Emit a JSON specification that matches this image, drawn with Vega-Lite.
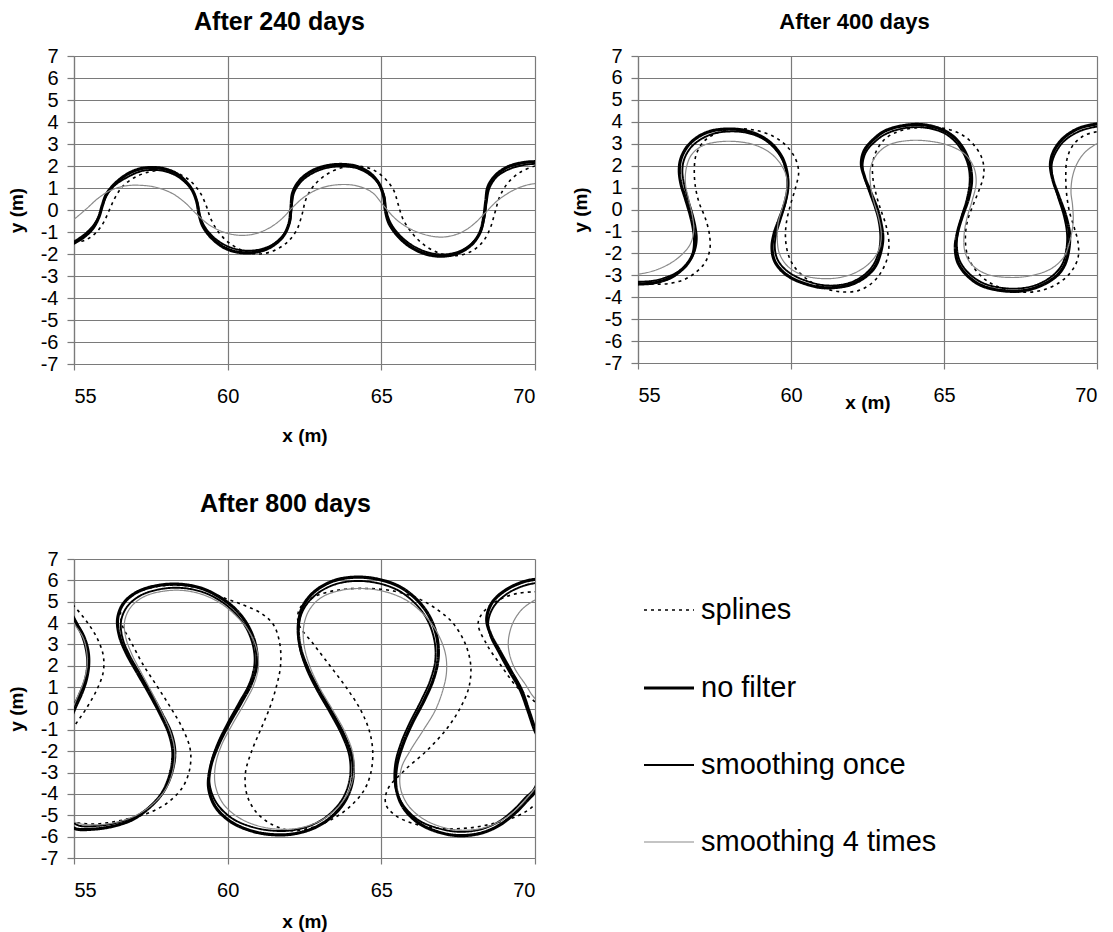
{
"$schema": "https://vega.github.io/schema/vega-lite/v6.json",
"padding": {"left": 7, "top": 10, "right": 5, "bottom": 5},
"background": "white",
"config": {
  "font": "Liberation Sans",
  "view": {"stroke": null},
  "axis": {"labelFont": "Liberation Sans", "labelFontSize": 20, "labelColor": "#000", "labelExpr": "'' + datum.value", "titleFont": "Liberation Sans", "titleFontSize": 19, "titleFontWeight": "bold", "titleColor": "#000", "gridColor": "#7a7a7a", "gridOpacity": 1, "gridWidth": 1.2, "domainColor": "#7a7a7a", "domainWidth": 1.2, "tickColor": "#7a7a7a", "tickWidth": 1.2},
  "axisX": {"tickSize": 6, "labelPadding": 16, "titlePadding": 20},
  "axisY": {"tickSize": 7, "labelPadding": 9, "titlePadding": 14},
  "title": {"font": "Liberation Sans", "fontSize": 25, "fontWeight": "bold", "color": "#000"},
  "legend": {"orient": "none", "legendX": 568, "legendY": 528, "symbolType": "stroke", "symbolSize": 2500, "labelFont": "Liberation Sans", "labelFontSize": 29, "labelColor": "#000", "rowPadding": 36, "labelOffset": 5, "labelLimit": 400}
},
"datasets": {"d": [
{"p":1,"s":"no filter","x":54.8,"y":-1.65},{"p":1,"s":"no filter","x":55,"y":-1.5},{"p":1,"s":"no filter","x":55.3,"y":-1.25},{"p":1,"s":"no filter","x":55.6,"y":-0.85},{"p":1,"s":"no filter","x":55.8,"y":-0.35},{"p":1,"s":"no filter","x":55.92,"y":0.2},{"p":1,"s":"no filter","x":56.05,"y":0.7},{"p":1,"s":"no filter","x":56.3,"y":1.15},{"p":1,"s":"no filter","x":56.7,"y":1.6},{"p":1,"s":"no filter","x":57.1,"y":1.85},{"p":1,"s":"no filter","x":57.5,"y":1.93},{"p":1,"s":"no filter","x":57.9,"y":1.88},{"p":1,"s":"no filter","x":58.3,"y":1.68},{"p":1,"s":"no filter","x":58.6,"y":1.35},{"p":1,"s":"no filter","x":58.85,"y":0.9},{"p":1,"s":"no filter","x":59.0,"y":0.35},{"p":1,"s":"no filter","x":59.07,"y":-0.2},{"p":1,"s":"no filter","x":59.2,"y":-0.75},{"p":1,"s":"no filter","x":59.5,"y":-1.3},{"p":1,"s":"no filter","x":59.9,"y":-1.72},{"p":1,"s":"no filter","x":60.4,"y":-1.93},{"p":1,"s":"no filter","x":60.9,"y":-1.92},{"p":1,"s":"no filter","x":61.4,"y":-1.68},{"p":1,"s":"no filter","x":61.8,"y":-1.2},{"p":1,"s":"no filter","x":62.0,"y":-0.6},{"p":1,"s":"no filter","x":62.06,"y":0.1},{"p":1,"s":"no filter","x":62.12,"y":0.8},{"p":1,"s":"no filter","x":62.35,"y":1.35},{"p":1,"s":"no filter","x":62.75,"y":1.78},{"p":1,"s":"no filter","x":63.2,"y":2.0},{"p":1,"s":"no filter","x":63.7,"y":2.07},{"p":1,"s":"no filter","x":64.2,"y":1.98},{"p":1,"s":"no filter","x":64.6,"y":1.7},{"p":1,"s":"no filter","x":64.9,"y":1.25},{"p":1,"s":"no filter","x":65.07,"y":0.65},{"p":1,"s":"no filter","x":65.13,"y":0.0},{"p":1,"s":"no filter","x":65.25,"y":-0.6},{"p":1,"s":"no filter","x":65.55,"y":-1.2},{"p":1,"s":"no filter","x":65.95,"y":-1.68},{"p":1,"s":"no filter","x":66.45,"y":-2.0},{"p":1,"s":"no filter","x":66.95,"y":-2.1},{"p":1,"s":"no filter","x":67.45,"y":-1.98},{"p":1,"s":"no filter","x":67.9,"y":-1.62},{"p":1,"s":"no filter","x":68.2,"y":-1.05},{"p":1,"s":"no filter","x":68.33,"y":-0.35},{"p":1,"s":"no filter","x":68.4,"y":0.4},{"p":1,"s":"no filter","x":68.47,"y":1.05},{"p":1,"s":"no filter","x":68.7,"y":1.55},{"p":1,"s":"no filter","x":69.1,"y":1.95},{"p":1,"s":"no filter","x":69.6,"y":2.15},{"p":1,"s":"no filter","x":70,"y":2.2},{"p":1,"s":"no filter","x":70.2,"y":2.22},
{"p":1,"s":"smoothing once","x":54.8,"y":-1.55},{"p":1,"s":"smoothing once","x":55,"y":-1.42},{"p":1,"s":"smoothing once","x":55.3,"y":-1.15},{"p":1,"s":"smoothing once","x":55.6,"y":-0.75},{"p":1,"s":"smoothing once","x":55.82,"y":-0.25},{"p":1,"s":"smoothing once","x":55.95,"y":0.3},{"p":1,"s":"smoothing once","x":56.1,"y":0.75},{"p":1,"s":"smoothing once","x":56.35,"y":1.15},{"p":1,"s":"smoothing once","x":56.75,"y":1.5},{"p":1,"s":"smoothing once","x":57.15,"y":1.75},{"p":1,"s":"smoothing once","x":57.5,"y":1.82},{"p":1,"s":"smoothing once","x":57.9,"y":1.78},{"p":1,"s":"smoothing once","x":58.3,"y":1.58},{"p":1,"s":"smoothing once","x":58.62,"y":1.25},{"p":1,"s":"smoothing once","x":58.88,"y":0.82},{"p":1,"s":"smoothing once","x":59.02,"y":0.3},{"p":1,"s":"smoothing once","x":59.1,"y":-0.25},{"p":1,"s":"smoothing once","x":59.25,"y":-0.75},{"p":1,"s":"smoothing once","x":59.55,"y":-1.25},{"p":1,"s":"smoothing once","x":59.95,"y":-1.62},{"p":1,"s":"smoothing once","x":60.45,"y":-1.83},{"p":1,"s":"smoothing once","x":60.95,"y":-1.82},{"p":1,"s":"smoothing once","x":61.45,"y":-1.58},{"p":1,"s":"smoothing once","x":61.82,"y":-1.12},{"p":1,"s":"smoothing once","x":62.02,"y":-0.55},{"p":1,"s":"smoothing once","x":62.08,"y":0.1},{"p":1,"s":"smoothing once","x":62.16,"y":0.78},{"p":1,"s":"smoothing once","x":62.4,"y":1.3},{"p":1,"s":"smoothing once","x":62.8,"y":1.7},{"p":1,"s":"smoothing once","x":63.25,"y":1.92},{"p":1,"s":"smoothing once","x":63.72,"y":1.98},{"p":1,"s":"smoothing once","x":64.2,"y":1.9},{"p":1,"s":"smoothing once","x":64.6,"y":1.62},{"p":1,"s":"smoothing once","x":64.92,"y":1.18},{"p":1,"s":"smoothing once","x":65.1,"y":0.6},{"p":1,"s":"smoothing once","x":65.16,"y":0.0},{"p":1,"s":"smoothing once","x":65.3,"y":-0.58},{"p":1,"s":"smoothing once","x":65.6,"y":-1.15},{"p":1,"s":"smoothing once","x":66.0,"y":-1.6},{"p":1,"s":"smoothing once","x":66.5,"y":-1.92},{"p":1,"s":"smoothing once","x":67.0,"y":-2.02},{"p":1,"s":"smoothing once","x":67.5,"y":-1.9},{"p":1,"s":"smoothing once","x":67.92,"y":-1.55},{"p":1,"s":"smoothing once","x":68.22,"y":-1.0},{"p":1,"s":"smoothing once","x":68.36,"y":-0.32},{"p":1,"s":"smoothing once","x":68.43,"y":0.4},{"p":1,"s":"smoothing once","x":68.52,"y":1.0},{"p":1,"s":"smoothing once","x":68.75,"y":1.5},{"p":1,"s":"smoothing once","x":69.15,"y":1.85},{"p":1,"s":"smoothing once","x":69.65,"y":2.05},{"p":1,"s":"smoothing once","x":70,"y":2.1},{"p":1,"s":"smoothing once","x":70.2,"y":2.12},
{"p":1,"s":"splines","x":54.8,"y":-1.6},{"p":1,"s":"splines","x":55,"y":-1.5},{"p":1,"s":"splines","x":55.4,"y":-1.35},{"p":1,"s":"splines","x":55.7,"y":-1.05},{"p":1,"s":"splines","x":55.95,"y":-0.6},{"p":1,"s":"splines","x":56.15,"y":0.0},{"p":1,"s":"splines","x":56.35,"y":0.6},{"p":1,"s":"splines","x":56.6,"y":1.1},{"p":1,"s":"splines","x":57.0,"y":1.5},{"p":1,"s":"splines","x":57.5,"y":1.75},{"p":1,"s":"splines","x":58.0,"y":1.8},{"p":1,"s":"splines","x":58.4,"y":1.65},{"p":1,"s":"splines","x":58.8,"y":1.3},{"p":1,"s":"splines","x":59.1,"y":0.8},{"p":1,"s":"splines","x":59.3,"y":0.2},{"p":1,"s":"splines","x":59.45,"y":-0.4},{"p":1,"s":"splines","x":59.7,"y":-1.0},{"p":1,"s":"splines","x":60.05,"y":-1.5},{"p":1,"s":"splines","x":60.5,"y":-1.85},{"p":1,"s":"splines","x":61.0,"y":-2.0},{"p":1,"s":"splines","x":61.5,"y":-1.85},{"p":1,"s":"splines","x":61.95,"y":-1.45},{"p":1,"s":"splines","x":62.25,"y":-0.9},{"p":1,"s":"splines","x":62.42,"y":-0.2},{"p":1,"s":"splines","x":62.55,"y":0.5},{"p":1,"s":"splines","x":62.8,"y":1.1},{"p":1,"s":"splines","x":63.2,"y":1.6},{"p":1,"s":"splines","x":63.7,"y":1.92},{"p":1,"s":"splines","x":64.2,"y":2.0},{"p":1,"s":"splines","x":64.7,"y":1.85},{"p":1,"s":"splines","x":65.1,"y":1.45},{"p":1,"s":"splines","x":65.4,"y":0.9},{"p":1,"s":"splines","x":65.55,"y":0.25},{"p":1,"s":"splines","x":65.7,"y":-0.4},{"p":1,"s":"splines","x":66.0,"y":-1.05},{"p":1,"s":"splines","x":66.4,"y":-1.6},{"p":1,"s":"splines","x":66.9,"y":-1.97},{"p":1,"s":"splines","x":67.4,"y":-2.08},{"p":1,"s":"splines","x":67.9,"y":-1.9},{"p":1,"s":"splines","x":68.3,"y":-1.45},{"p":1,"s":"splines","x":68.55,"y":-0.8},{"p":1,"s":"splines","x":68.7,"y":-0.1},{"p":1,"s":"splines","x":68.85,"y":0.6},{"p":1,"s":"splines","x":69.1,"y":1.2},{"p":1,"s":"splines","x":69.5,"y":1.7},{"p":1,"s":"splines","x":70,"y":2.0},{"p":1,"s":"splines","x":70.2,"y":2.05},
{"p":1,"s":"smoothing 4 times","x":54.8,"y":-0.6},{"p":1,"s":"smoothing 4 times","x":55,"y":-0.42},{"p":1,"s":"smoothing 4 times","x":55.4,"y":0.05},{"p":1,"s":"smoothing 4 times","x":55.8,"y":0.55},{"p":1,"s":"smoothing 4 times","x":56.2,"y":0.9},{"p":1,"s":"smoothing 4 times","x":56.7,"y":1.1},{"p":1,"s":"smoothing 4 times","x":57.2,"y":1.12},{"p":1,"s":"smoothing 4 times","x":57.7,"y":1.02},{"p":1,"s":"smoothing 4 times","x":58.2,"y":0.75},{"p":1,"s":"smoothing 4 times","x":58.6,"y":0.35},{"p":1,"s":"smoothing 4 times","x":59.0,"y":-0.2},{"p":1,"s":"smoothing 4 times","x":59.4,"y":-0.68},{"p":1,"s":"smoothing 4 times","x":59.9,"y":-1.02},{"p":1,"s":"smoothing 4 times","x":60.4,"y":-1.15},{"p":1,"s":"smoothing 4 times","x":60.9,"y":-1.08},{"p":1,"s":"smoothing 4 times","x":61.4,"y":-0.78},{"p":1,"s":"smoothing 4 times","x":61.8,"y":-0.35},{"p":1,"s":"smoothing 4 times","x":62.1,"y":0.1},{"p":1,"s":"smoothing 4 times","x":62.5,"y":0.6},{"p":1,"s":"smoothing 4 times","x":63.0,"y":0.98},{"p":1,"s":"smoothing 4 times","x":63.6,"y":1.15},{"p":1,"s":"smoothing 4 times","x":64.2,"y":1.1},{"p":1,"s":"smoothing 4 times","x":64.7,"y":0.8},{"p":1,"s":"smoothing 4 times","x":65.1,"y":0.15},{"p":1,"s":"smoothing 4 times","x":65.5,"y":-0.45},{"p":1,"s":"smoothing 4 times","x":66.0,"y":-0.9},{"p":1,"s":"smoothing 4 times","x":66.6,"y":-1.18},{"p":1,"s":"smoothing 4 times","x":67.1,"y":-1.22},{"p":1,"s":"smoothing 4 times","x":67.6,"y":-1.02},{"p":1,"s":"smoothing 4 times","x":68.0,"y":-0.65},{"p":1,"s":"smoothing 4 times","x":68.4,"y":-0.1},{"p":1,"s":"smoothing 4 times","x":68.8,"y":0.45},{"p":1,"s":"smoothing 4 times","x":69.3,"y":0.9},{"p":1,"s":"smoothing 4 times","x":69.7,"y":1.12},{"p":1,"s":"smoothing 4 times","x":70,"y":1.2},{"p":1,"s":"smoothing 4 times","x":70.2,"y":1.22},
{"p":2,"s":"no filter","x":54.5,"y":-3.45},{"p":2,"s":"no filter","x":55,"y":-3.4},{"p":2,"s":"no filter","x":55.5,"y":-3.35},{"p":2,"s":"no filter","x":56.0,"y":-3.15},{"p":2,"s":"no filter","x":56.3,"y":-2.9},{"p":2,"s":"no filter","x":56.6,"y":-2.5},{"p":2,"s":"no filter","x":56.8,"y":-2.0},{"p":2,"s":"no filter","x":56.85,"y":-1.4},{"p":2,"s":"no filter","x":56.8,"y":-0.8},{"p":2,"s":"no filter","x":56.7,"y":-0.2},{"p":2,"s":"no filter","x":56.55,"y":0.5},{"p":2,"s":"no filter","x":56.4,"y":1.2},{"p":2,"s":"no filter","x":56.35,"y":1.8},{"p":2,"s":"no filter","x":56.4,"y":2.3},{"p":2,"s":"no filter","x":56.6,"y":2.85},{"p":2,"s":"no filter","x":56.95,"y":3.3},{"p":2,"s":"no filter","x":57.4,"y":3.58},{"p":2,"s":"no filter","x":57.95,"y":3.67},{"p":2,"s":"no filter","x":58.5,"y":3.6},{"p":2,"s":"no filter","x":59.0,"y":3.35},{"p":2,"s":"no filter","x":59.4,"y":2.95},{"p":2,"s":"no filter","x":59.7,"y":2.4},{"p":2,"s":"no filter","x":59.85,"y":1.8},{"p":2,"s":"no filter","x":59.9,"y":1.1},{"p":2,"s":"no filter","x":59.8,"y":0.3},{"p":2,"s":"no filter","x":59.6,"y":-0.5},{"p":2,"s":"no filter","x":59.45,"y":-1.1},{"p":2,"s":"no filter","x":59.38,"y":-1.7},{"p":2,"s":"no filter","x":59.45,"y":-2.3},{"p":2,"s":"no filter","x":59.7,"y":-2.8},{"p":2,"s":"no filter","x":60.05,"y":-3.15},{"p":2,"s":"no filter","x":60.5,"y":-3.4},{"p":2,"s":"no filter","x":60.95,"y":-3.55},{"p":2,"s":"no filter","x":61.5,"y":-3.55},{"p":2,"s":"no filter","x":62.0,"y":-3.4},{"p":2,"s":"no filter","x":62.45,"y":-3.05},{"p":2,"s":"no filter","x":62.75,"y":-2.6},{"p":2,"s":"no filter","x":62.92,"y":-2.0},{"p":2,"s":"no filter","x":63.0,"y":-1.3},{"p":2,"s":"no filter","x":62.92,"y":-0.5},{"p":2,"s":"no filter","x":62.8,"y":0.1},{"p":2,"s":"no filter","x":62.6,"y":0.8},{"p":2,"s":"no filter","x":62.4,"y":1.5},{"p":2,"s":"no filter","x":62.3,"y":2.1},{"p":2,"s":"no filter","x":62.4,"y":2.7},{"p":2,"s":"no filter","x":62.7,"y":3.2},{"p":2,"s":"no filter","x":63.1,"y":3.6},{"p":2,"s":"no filter","x":63.8,"y":3.85},{"p":2,"s":"no filter","x":64.4,"y":3.85},{"p":2,"s":"no filter","x":65.0,"y":3.6},{"p":2,"s":"no filter","x":65.4,"y":3.2},{"p":2,"s":"no filter","x":65.7,"y":2.6},{"p":2,"s":"no filter","x":65.85,"y":2.0},{"p":2,"s":"no filter","x":65.9,"y":1.3},{"p":2,"s":"no filter","x":65.8,"y":0.5},{"p":2,"s":"no filter","x":65.6,"y":-0.3},{"p":2,"s":"no filter","x":65.45,"y":-1.0},{"p":2,"s":"no filter","x":65.37,"y":-1.7},{"p":2,"s":"no filter","x":65.45,"y":-2.4},{"p":2,"s":"no filter","x":65.75,"y":-3.0},{"p":2,"s":"no filter","x":66.2,"y":-3.45},{"p":2,"s":"no filter","x":66.9,"y":-3.7},{"p":2,"s":"no filter","x":67.6,"y":-3.7},{"p":2,"s":"no filter","x":68.2,"y":-3.45},{"p":2,"s":"no filter","x":68.7,"y":-3.0},{"p":2,"s":"no filter","x":68.95,"y":-2.5},{"p":2,"s":"no filter","x":69.08,"y":-1.8},{"p":2,"s":"no filter","x":69.1,"y":-1.1},{"p":2,"s":"no filter","x":68.98,"y":-0.3},{"p":2,"s":"no filter","x":68.75,"y":0.6},{"p":2,"s":"no filter","x":68.55,"y":1.4},{"p":2,"s":"no filter","x":68.48,"y":2.1},{"p":2,"s":"no filter","x":68.6,"y":2.7},{"p":2,"s":"no filter","x":68.9,"y":3.25},{"p":2,"s":"no filter","x":69.4,"y":3.7},{"p":2,"s":"no filter","x":70,"y":3.9},{"p":2,"s":"no filter","x":70.4,"y":3.95},
{"p":2,"s":"smoothing once","x":54.5,"y":-3.35},{"p":2,"s":"smoothing once","x":55,"y":-3.3},{"p":2,"s":"smoothing once","x":55.5,"y":-3.25},{"p":2,"s":"smoothing once","x":56.0,"y":-3.05},{"p":2,"s":"smoothing once","x":56.35,"y":-2.8},{"p":2,"s":"smoothing once","x":56.65,"y":-2.4},{"p":2,"s":"smoothing once","x":56.85,"y":-1.9},{"p":2,"s":"smoothing once","x":56.92,"y":-1.35},{"p":2,"s":"smoothing once","x":56.88,"y":-0.8},{"p":2,"s":"smoothing once","x":56.78,"y":-0.2},{"p":2,"s":"smoothing once","x":56.63,"y":0.5},{"p":2,"s":"smoothing once","x":56.5,"y":1.2},{"p":2,"s":"smoothing once","x":56.45,"y":1.75},{"p":2,"s":"smoothing once","x":56.5,"y":2.25},{"p":2,"s":"smoothing once","x":56.7,"y":2.78},{"p":2,"s":"smoothing once","x":57.05,"y":3.2},{"p":2,"s":"smoothing once","x":57.5,"y":3.47},{"p":2,"s":"smoothing once","x":58.0,"y":3.56},{"p":2,"s":"smoothing once","x":58.55,"y":3.5},{"p":2,"s":"smoothing once","x":59.05,"y":3.25},{"p":2,"s":"smoothing once","x":59.42,"y":2.85},{"p":2,"s":"smoothing once","x":59.7,"y":2.32},{"p":2,"s":"smoothing once","x":59.85,"y":1.75},{"p":2,"s":"smoothing once","x":59.9,"y":1.05},{"p":2,"s":"smoothing once","x":59.82,"y":0.3},{"p":2,"s":"smoothing once","x":59.65,"y":-0.5},{"p":2,"s":"smoothing once","x":59.52,"y":-1.1},{"p":2,"s":"smoothing once","x":59.47,"y":-1.7},{"p":2,"s":"smoothing once","x":59.55,"y":-2.25},{"p":2,"s":"smoothing once","x":59.8,"y":-2.72},{"p":2,"s":"smoothing once","x":60.15,"y":-3.05},{"p":2,"s":"smoothing once","x":60.6,"y":-3.3},{"p":2,"s":"smoothing once","x":61.05,"y":-3.45},{"p":2,"s":"smoothing once","x":61.55,"y":-3.45},{"p":2,"s":"smoothing once","x":62.0,"y":-3.3},{"p":2,"s":"smoothing once","x":62.42,"y":-2.95},{"p":2,"s":"smoothing once","x":62.7,"y":-2.5},{"p":2,"s":"smoothing once","x":62.86,"y":-1.95},{"p":2,"s":"smoothing once","x":62.92,"y":-1.3},{"p":2,"s":"smoothing once","x":62.86,"y":-0.5},{"p":2,"s":"smoothing once","x":62.74,"y":0.1},{"p":2,"s":"smoothing once","x":62.56,"y":0.8},{"p":2,"s":"smoothing once","x":62.4,"y":1.5},{"p":2,"s":"smoothing once","x":62.34,"y":2.05},{"p":2,"s":"smoothing once","x":62.45,"y":2.62},{"p":2,"s":"smoothing once","x":62.75,"y":3.1},{"p":2,"s":"smoothing once","x":63.15,"y":3.48},{"p":2,"s":"smoothing once","x":63.8,"y":3.73},{"p":2,"s":"smoothing once","x":64.4,"y":3.73},{"p":2,"s":"smoothing once","x":64.98,"y":3.5},{"p":2,"s":"smoothing once","x":65.36,"y":3.1},{"p":2,"s":"smoothing once","x":65.64,"y":2.55},{"p":2,"s":"smoothing once","x":65.8,"y":1.95},{"p":2,"s":"smoothing once","x":65.84,"y":1.3},{"p":2,"s":"smoothing once","x":65.75,"y":0.5},{"p":2,"s":"smoothing once","x":65.58,"y":-0.3},{"p":2,"s":"smoothing once","x":65.46,"y":-1.0},{"p":2,"s":"smoothing once","x":65.42,"y":-1.7},{"p":2,"s":"smoothing once","x":65.52,"y":-2.35},{"p":2,"s":"smoothing once","x":65.82,"y":-2.92},{"p":2,"s":"smoothing once","x":66.27,"y":-3.35},{"p":2,"s":"smoothing once","x":66.92,"y":-3.58},{"p":2,"s":"smoothing once","x":67.6,"y":-3.58},{"p":2,"s":"smoothing once","x":68.17,"y":-3.35},{"p":2,"s":"smoothing once","x":68.63,"y":-2.92},{"p":2,"s":"smoothing once","x":68.88,"y":-2.45},{"p":2,"s":"smoothing once","x":69.0,"y":-1.8},{"p":2,"s":"smoothing once","x":69.02,"y":-1.1},{"p":2,"s":"smoothing once","x":68.92,"y":-0.3},{"p":2,"s":"smoothing once","x":68.72,"y":0.6},{"p":2,"s":"smoothing once","x":68.56,"y":1.4},{"p":2,"s":"smoothing once","x":68.52,"y":2.05},{"p":2,"s":"smoothing once","x":68.66,"y":2.62},{"p":2,"s":"smoothing once","x":68.95,"y":3.15},{"p":2,"s":"smoothing once","x":69.45,"y":3.58},{"p":2,"s":"smoothing once","x":70,"y":3.78},{"p":2,"s":"smoothing once","x":70.4,"y":3.83},
{"p":2,"s":"splines","x":54.5,"y":-3.35},{"p":2,"s":"splines","x":55,"y":-3.35},{"p":2,"s":"splines","x":55.5,"y":-3.4},{"p":2,"s":"splines","x":56.0,"y":-3.38},{"p":2,"s":"splines","x":56.5,"y":-3.2},{"p":2,"s":"splines","x":56.9,"y":-2.85},{"p":2,"s":"splines","x":57.2,"y":-2.4},{"p":2,"s":"splines","x":57.35,"y":-1.8},{"p":2,"s":"splines","x":57.33,"y":-1.1},{"p":2,"s":"splines","x":57.2,"y":-0.4},{"p":2,"s":"splines","x":57.0,"y":0.3},{"p":2,"s":"splines","x":56.88,"y":1.0},{"p":2,"s":"splines","x":56.84,"y":1.8},{"p":2,"s":"splines","x":56.9,"y":2.5},{"p":2,"s":"splines","x":57.15,"y":3.1},{"p":2,"s":"splines","x":57.6,"y":3.5},{"p":2,"s":"splines","x":58.2,"y":3.67},{"p":2,"s":"splines","x":58.8,"y":3.62},{"p":2,"s":"splines","x":59.4,"y":3.35},{"p":2,"s":"splines","x":59.85,"y":2.9},{"p":2,"s":"splines","x":60.15,"y":2.3},{"p":2,"s":"splines","x":60.25,"y":1.7},{"p":2,"s":"splines","x":60.15,"y":1.0},{"p":2,"s":"splines","x":59.98,"y":0.2},{"p":2,"s":"splines","x":59.85,"y":-0.6},{"p":2,"s":"splines","x":59.82,"y":-1.3},{"p":2,"s":"splines","x":59.9,"y":-2.0},{"p":2,"s":"splines","x":60.1,"y":-2.6},{"p":2,"s":"splines","x":60.5,"y":-3.15},{"p":2,"s":"splines","x":61.0,"y":-3.55},{"p":2,"s":"splines","x":61.6,"y":-3.75},{"p":2,"s":"splines","x":62.2,"y":-3.7},{"p":2,"s":"splines","x":62.65,"y":-3.35},{"p":2,"s":"splines","x":62.95,"y":-2.85},{"p":2,"s":"splines","x":63.15,"y":-2.2},{"p":2,"s":"splines","x":63.2,"y":-1.5},{"p":2,"s":"splines","x":63.1,"y":-0.7},{"p":2,"s":"splines","x":62.93,"y":0.0},{"p":2,"s":"splines","x":62.78,"y":0.7},{"p":2,"s":"splines","x":62.68,"y":1.4},{"p":2,"s":"splines","x":62.67,"y":2.1},{"p":2,"s":"splines","x":62.8,"y":2.7},{"p":2,"s":"splines","x":63.1,"y":3.25},{"p":2,"s":"splines","x":63.6,"y":3.6},{"p":2,"s":"splines","x":64.3,"y":3.75},{"p":2,"s":"splines","x":65.0,"y":3.7},{"p":2,"s":"splines","x":65.6,"y":3.4},{"p":2,"s":"splines","x":66.0,"y":2.9},{"p":2,"s":"splines","x":66.25,"y":2.3},{"p":2,"s":"splines","x":66.3,"y":1.6},{"p":2,"s":"splines","x":66.15,"y":0.9},{"p":2,"s":"splines","x":65.95,"y":0.2},{"p":2,"s":"splines","x":65.77,"y":-0.5},{"p":2,"s":"splines","x":65.7,"y":-1.2},{"p":2,"s":"splines","x":65.75,"y":-2.0},{"p":2,"s":"splines","x":65.95,"y":-2.6},{"p":2,"s":"splines","x":66.35,"y":-3.2},{"p":2,"s":"splines","x":66.9,"y":-3.6},{"p":2,"s":"splines","x":67.5,"y":-3.77},{"p":2,"s":"splines","x":68.15,"y":-3.7},{"p":2,"s":"splines","x":68.75,"y":-3.35},{"p":2,"s":"splines","x":69.15,"y":-2.85},{"p":2,"s":"splines","x":69.38,"y":-2.2},{"p":2,"s":"splines","x":69.38,"y":-1.5},{"p":2,"s":"splines","x":69.25,"y":-0.8},{"p":2,"s":"splines","x":69.1,"y":-0.1},{"p":2,"s":"splines","x":69.0,"y":0.8},{"p":2,"s":"splines","x":68.98,"y":1.6},{"p":2,"s":"splines","x":69.02,"y":2.3},{"p":2,"s":"splines","x":69.2,"y":2.9},{"p":2,"s":"splines","x":69.55,"y":3.35},{"p":2,"s":"splines","x":70,"y":3.55},{"p":2,"s":"splines","x":70.4,"y":3.62},
{"p":2,"s":"smoothing 4 times","x":54.5,"y":-3.0},{"p":2,"s":"smoothing 4 times","x":55,"y":-2.95},{"p":2,"s":"smoothing 4 times","x":55.5,"y":-2.8},{"p":2,"s":"smoothing 4 times","x":56.0,"y":-2.5},{"p":2,"s":"smoothing 4 times","x":56.4,"y":-2.1},{"p":2,"s":"smoothing 4 times","x":56.7,"y":-1.6},{"p":2,"s":"smoothing 4 times","x":56.82,"y":-1.0},{"p":2,"s":"smoothing 4 times","x":56.78,"y":-0.3},{"p":2,"s":"smoothing 4 times","x":56.65,"y":0.5},{"p":2,"s":"smoothing 4 times","x":56.55,"y":1.2},{"p":2,"s":"smoothing 4 times","x":56.58,"y":1.9},{"p":2,"s":"smoothing 4 times","x":56.75,"y":2.5},{"p":2,"s":"smoothing 4 times","x":57.1,"y":2.9},{"p":2,"s":"smoothing 4 times","x":57.6,"y":3.08},{"p":2,"s":"smoothing 4 times","x":58.2,"y":3.1},{"p":2,"s":"smoothing 4 times","x":58.8,"y":2.95},{"p":2,"s":"smoothing 4 times","x":59.3,"y":2.6},{"p":2,"s":"smoothing 4 times","x":59.65,"y":2.1},{"p":2,"s":"smoothing 4 times","x":59.85,"y":1.5},{"p":2,"s":"smoothing 4 times","x":59.85,"y":0.8},{"p":2,"s":"smoothing 4 times","x":59.72,"y":0.1},{"p":2,"s":"smoothing 4 times","x":59.58,"y":-0.6},{"p":2,"s":"smoothing 4 times","x":59.55,"y":-1.3},{"p":2,"s":"smoothing 4 times","x":59.62,"y":-2.0},{"p":2,"s":"smoothing 4 times","x":59.9,"y":-2.6},{"p":2,"s":"smoothing 4 times","x":60.4,"y":-3.0},{"p":2,"s":"smoothing 4 times","x":61.0,"y":-3.15},{"p":2,"s":"smoothing 4 times","x":61.6,"y":-3.1},{"p":2,"s":"smoothing 4 times","x":62.15,"y":-2.85},{"p":2,"s":"smoothing 4 times","x":62.6,"y":-2.4},{"p":2,"s":"smoothing 4 times","x":62.88,"y":-1.8},{"p":2,"s":"smoothing 4 times","x":62.95,"y":-1.1},{"p":2,"s":"smoothing 4 times","x":62.85,"y":-0.3},{"p":2,"s":"smoothing 4 times","x":62.7,"y":0.4},{"p":2,"s":"smoothing 4 times","x":62.6,"y":1.1},{"p":2,"s":"smoothing 4 times","x":62.6,"y":1.9},{"p":2,"s":"smoothing 4 times","x":62.8,"y":2.5},{"p":2,"s":"smoothing 4 times","x":63.2,"y":2.95},{"p":2,"s":"smoothing 4 times","x":63.9,"y":3.15},{"p":2,"s":"smoothing 4 times","x":64.6,"y":3.1},{"p":2,"s":"smoothing 4 times","x":65.2,"y":2.9},{"p":2,"s":"smoothing 4 times","x":65.7,"y":2.5},{"p":2,"s":"smoothing 4 times","x":65.98,"y":1.9},{"p":2,"s":"smoothing 4 times","x":66.05,"y":1.2},{"p":2,"s":"smoothing 4 times","x":65.92,"y":0.4},{"p":2,"s":"smoothing 4 times","x":65.75,"y":-0.4},{"p":2,"s":"smoothing 4 times","x":65.66,"y":-1.1},{"p":2,"s":"smoothing 4 times","x":65.68,"y":-1.9},{"p":2,"s":"smoothing 4 times","x":65.9,"y":-2.5},{"p":2,"s":"smoothing 4 times","x":66.4,"y":-2.95},{"p":2,"s":"smoothing 4 times","x":67.2,"y":-3.1},{"p":2,"s":"smoothing 4 times","x":67.9,"y":-3.0},{"p":2,"s":"smoothing 4 times","x":68.5,"y":-2.7},{"p":2,"s":"smoothing 4 times","x":68.9,"y":-2.2},{"p":2,"s":"smoothing 4 times","x":69.1,"y":-1.5},{"p":2,"s":"smoothing 4 times","x":69.22,"y":-0.6},{"p":2,"s":"smoothing 4 times","x":69.2,"y":0.2},{"p":2,"s":"smoothing 4 times","x":69.15,"y":0.8},{"p":2,"s":"smoothing 4 times","x":69.2,"y":1.5},{"p":2,"s":"smoothing 4 times","x":69.35,"y":2.1},{"p":2,"s":"smoothing 4 times","x":69.6,"y":2.6},{"p":2,"s":"smoothing 4 times","x":70,"y":3.0},{"p":2,"s":"smoothing 4 times","x":70.4,"y":3.2},
{"p":3,"s":"no filter","x":54.6,"y":5.2},{"p":3,"s":"no filter","x":55,"y":4.15},{"p":3,"s":"no filter","x":55.25,"y":3.5},{"p":3,"s":"no filter","x":55.4,"y":2.8},{"p":3,"s":"no filter","x":55.45,"y":2.1},{"p":3,"s":"no filter","x":55.38,"y":1.4},{"p":3,"s":"no filter","x":55.2,"y":0.7},{"p":3,"s":"no filter","x":55,"y":0.1},{"p":3,"s":"no filter","x":54.75,"y":-0.7},{"p":3,"s":"no filter","x":54.4,"y":-2.0},{"p":3,"s":"no filter","x":54.25,"y":-3.5},{"p":3,"s":"no filter","x":54.45,"y":-4.8},{"p":3,"s":"no filter","x":55,"y":-5.6},{"p":3,"s":"no filter","x":55.6,"y":-5.65},{"p":3,"s":"no filter","x":56.3,"y":-5.5},{"p":3,"s":"no filter","x":56.9,"y":-5.2},{"p":3,"s":"no filter","x":57.4,"y":-4.7},{"p":3,"s":"no filter","x":57.85,"y":-4.0},{"p":3,"s":"no filter","x":58.12,"y":-3.1},{"p":3,"s":"no filter","x":58.22,"y":-2.1},{"p":3,"s":"no filter","x":58.1,"y":-1.2},{"p":3,"s":"no filter","x":57.82,"y":-0.3},{"p":3,"s":"no filter","x":57.45,"y":0.7},{"p":3,"s":"no filter","x":57.05,"y":1.7},{"p":3,"s":"no filter","x":56.7,"y":2.6},{"p":3,"s":"no filter","x":56.48,"y":3.4},{"p":3,"s":"no filter","x":56.42,"y":4.2},{"p":3,"s":"no filter","x":56.6,"y":4.9},{"p":3,"s":"no filter","x":57.05,"y":5.45},{"p":3,"s":"no filter","x":57.7,"y":5.75},{"p":3,"s":"no filter","x":58.4,"y":5.82},{"p":3,"s":"no filter","x":59.1,"y":5.65},{"p":3,"s":"no filter","x":59.7,"y":5.25},{"p":3,"s":"no filter","x":60.25,"y":4.65},{"p":3,"s":"no filter","x":60.65,"y":3.9},{"p":3,"s":"no filter","x":60.9,"y":3.0},{"p":3,"s":"no filter","x":60.95,"y":2.1},{"p":3,"s":"no filter","x":60.78,"y":1.2},{"p":3,"s":"no filter","x":60.45,"y":0.3},{"p":3,"s":"no filter","x":60.05,"y":-0.7},{"p":3,"s":"no filter","x":59.7,"y":-1.7},{"p":3,"s":"no filter","x":59.45,"y":-2.7},{"p":3,"s":"no filter","x":59.38,"y":-3.7},{"p":3,"s":"no filter","x":59.6,"y":-4.6},{"p":3,"s":"no filter","x":60.1,"y":-5.3},{"p":3,"s":"no filter","x":60.75,"y":-5.72},{"p":3,"s":"no filter","x":61.4,"y":-5.9},{"p":3,"s":"no filter","x":62.1,"y":-5.88},{"p":3,"s":"no filter","x":62.8,"y":-5.6},{"p":3,"s":"no filter","x":63.4,"y":-5.05},{"p":3,"s":"no filter","x":63.85,"y":-4.25},{"p":3,"s":"no filter","x":64.07,"y":-3.3},{"p":3,"s":"no filter","x":64.05,"y":-2.3},{"p":3,"s":"no filter","x":63.8,"y":-1.3},{"p":3,"s":"no filter","x":63.4,"y":-0.2},{"p":3,"s":"no filter","x":62.95,"y":0.9},{"p":3,"s":"no filter","x":62.6,"y":1.9},{"p":3,"s":"no filter","x":62.36,"y":2.9},{"p":3,"s":"no filter","x":62.3,"y":3.9},{"p":3,"s":"no filter","x":62.45,"y":4.8},{"p":3,"s":"no filter","x":62.85,"y":5.5},{"p":3,"s":"no filter","x":63.45,"y":5.98},{"p":3,"s":"no filter","x":64.15,"y":6.15},{"p":3,"s":"no filter","x":64.9,"y":6.05},{"p":3,"s":"no filter","x":65.6,"y":5.7},{"p":3,"s":"no filter","x":66.15,"y":5.1},{"p":3,"s":"no filter","x":66.55,"y":4.35},{"p":3,"s":"no filter","x":66.8,"y":3.4},{"p":3,"s":"no filter","x":66.85,"y":2.4},{"p":3,"s":"no filter","x":66.7,"y":1.4},{"p":3,"s":"no filter","x":66.4,"y":0.4},{"p":3,"s":"no filter","x":66.0,"y":-0.7},{"p":3,"s":"no filter","x":65.7,"y":-1.7},{"p":3,"s":"no filter","x":65.5,"y":-2.7},{"p":3,"s":"no filter","x":65.48,"y":-3.7},{"p":3,"s":"no filter","x":65.7,"y":-4.6},{"p":3,"s":"no filter","x":66.2,"y":-5.35},{"p":3,"s":"no filter","x":66.85,"y":-5.78},{"p":3,"s":"no filter","x":67.5,"y":-5.95},{"p":3,"s":"no filter","x":68.2,"y":-5.85},{"p":3,"s":"no filter","x":68.8,"y":-5.5},{"p":3,"s":"no filter","x":69.35,"y":-4.9},{"p":3,"s":"no filter","x":69.75,"y":-4.3},{"p":3,"s":"no filter","x":70,"y":-3.9},{"p":3,"s":"no filter","x":70.2,"y":-3.2},{"p":3,"s":"no filter","x":70.25,"y":-2.3},{"p":3,"s":"no filter","x":70.15,"y":-1.5},{"p":3,"s":"no filter","x":70,"y":-0.95},{"p":3,"s":"no filter","x":69.8,"y":-0.1},{"p":3,"s":"no filter","x":69.55,"y":0.9},{"p":3,"s":"no filter","x":69.2,"y":1.8},{"p":3,"s":"no filter","x":68.85,"y":2.7},{"p":3,"s":"no filter","x":68.55,"y":3.5},{"p":3,"s":"no filter","x":68.43,"y":4.2},{"p":3,"s":"no filter","x":68.6,"y":4.95},{"p":3,"s":"no filter","x":69.05,"y":5.55},{"p":3,"s":"no filter","x":69.6,"y":5.92},{"p":3,"s":"no filter","x":70,"y":6.05},{"p":3,"s":"no filter","x":70.4,"y":6.12},
{"p":3,"s":"smoothing once","x":54.7,"y":5.1},{"p":3,"s":"smoothing once","x":55.1,"y":4.0},{"p":3,"s":"smoothing once","x":55.33,"y":3.4},{"p":3,"s":"smoothing once","x":55.47,"y":2.75},{"p":3,"s":"smoothing once","x":55.5,"y":2.1},{"p":3,"s":"smoothing once","x":55.43,"y":1.4},{"p":3,"s":"smoothing once","x":55.27,"y":0.7},{"p":3,"s":"smoothing once","x":55.08,"y":0.1},{"p":3,"s":"smoothing once","x":54.85,"y":-0.7},{"p":3,"s":"smoothing once","x":54.5,"y":-2.0},{"p":3,"s":"smoothing once","x":54.35,"y":-3.4},{"p":3,"s":"smoothing once","x":54.55,"y":-4.65},{"p":3,"s":"smoothing once","x":55.1,"y":-5.45},{"p":3,"s":"smoothing once","x":55.7,"y":-5.5},{"p":3,"s":"smoothing once","x":56.4,"y":-5.35},{"p":3,"s":"smoothing once","x":57.0,"y":-5.05},{"p":3,"s":"smoothing once","x":57.5,"y":-4.55},{"p":3,"s":"smoothing once","x":57.93,"y":-3.88},{"p":3,"s":"smoothing once","x":58.2,"y":-3.0},{"p":3,"s":"smoothing once","x":58.3,"y":-2.05},{"p":3,"s":"smoothing once","x":58.18,"y":-1.15},{"p":3,"s":"smoothing once","x":57.9,"y":-0.3},{"p":3,"s":"smoothing once","x":57.53,"y":0.68},{"p":3,"s":"smoothing once","x":57.14,"y":1.65},{"p":3,"s":"smoothing once","x":56.8,"y":2.52},{"p":3,"s":"smoothing once","x":56.58,"y":3.3},{"p":3,"s":"smoothing once","x":56.53,"y":4.08},{"p":3,"s":"smoothing once","x":56.72,"y":4.75},{"p":3,"s":"smoothing once","x":57.15,"y":5.28},{"p":3,"s":"smoothing once","x":57.78,"y":5.58},{"p":3,"s":"smoothing once","x":58.45,"y":5.65},{"p":3,"s":"smoothing once","x":59.12,"y":5.48},{"p":3,"s":"smoothing once","x":59.7,"y":5.1},{"p":3,"s":"smoothing once","x":60.22,"y":4.5},{"p":3,"s":"smoothing once","x":60.6,"y":3.78},{"p":3,"s":"smoothing once","x":60.83,"y":2.9},{"p":3,"s":"smoothing once","x":60.87,"y":2.05},{"p":3,"s":"smoothing once","x":60.7,"y":1.15},{"p":3,"s":"smoothing once","x":60.38,"y":0.3},{"p":3,"s":"smoothing once","x":60.0,"y":-0.68},{"p":3,"s":"smoothing once","x":59.67,"y":-1.65},{"p":3,"s":"smoothing once","x":59.45,"y":-2.62},{"p":3,"s":"smoothing once","x":59.42,"y":-3.6},{"p":3,"s":"smoothing once","x":59.65,"y":-4.45},{"p":3,"s":"smoothing once","x":60.15,"y":-5.15},{"p":3,"s":"smoothing once","x":60.8,"y":-5.55},{"p":3,"s":"smoothing once","x":61.45,"y":-5.72},{"p":3,"s":"smoothing once","x":62.12,"y":-5.7},{"p":3,"s":"smoothing once","x":62.78,"y":-5.43},{"p":3,"s":"smoothing once","x":63.35,"y":-4.9},{"p":3,"s":"smoothing once","x":63.78,"y":-4.12},{"p":3,"s":"smoothing once","x":63.98,"y":-3.2},{"p":3,"s":"smoothing once","x":63.96,"y":-2.23},{"p":3,"s":"smoothing once","x":63.72,"y":-1.26},{"p":3,"s":"smoothing once","x":63.33,"y":-0.2},{"p":3,"s":"smoothing once","x":62.9,"y":0.87},{"p":3,"s":"smoothing once","x":62.57,"y":1.84},{"p":3,"s":"smoothing once","x":62.35,"y":2.82},{"p":3,"s":"smoothing once","x":62.3,"y":3.78},{"p":3,"s":"smoothing once","x":62.47,"y":4.65},{"p":3,"s":"smoothing once","x":62.88,"y":5.34},{"p":3,"s":"smoothing once","x":63.47,"y":5.8},{"p":3,"s":"smoothing once","x":64.15,"y":5.97},{"p":3,"s":"smoothing once","x":64.88,"y":5.87},{"p":3,"s":"smoothing once","x":65.55,"y":5.53},{"p":3,"s":"smoothing once","x":66.08,"y":4.95},{"p":3,"s":"smoothing once","x":66.47,"y":4.22},{"p":3,"s":"smoothing once","x":66.71,"y":3.3},{"p":3,"s":"smoothing once","x":66.76,"y":2.33},{"p":3,"s":"smoothing once","x":66.6,"y":1.36},{"p":3,"s":"smoothing once","x":66.3,"y":0.39},{"p":3,"s":"smoothing once","x":65.92,"y":-0.68},{"p":3,"s":"smoothing once","x":65.63,"y":-1.65},{"p":3,"s":"smoothing once","x":65.45,"y":-2.62},{"p":3,"s":"smoothing once","x":65.45,"y":-3.6},{"p":3,"s":"smoothing once","x":65.68,"y":-4.45},{"p":3,"s":"smoothing once","x":66.18,"y":-5.2},{"p":3,"s":"smoothing once","x":66.83,"y":-5.6},{"p":3,"s":"smoothing once","x":67.5,"y":-5.77},{"p":3,"s":"smoothing once","x":68.18,"y":-5.68},{"p":3,"s":"smoothing once","x":68.77,"y":-5.34},{"p":3,"s":"smoothing once","x":69.3,"y":-4.75},{"p":3,"s":"smoothing once","x":69.7,"y":-4.15},{"p":3,"s":"smoothing once","x":69.95,"y":-3.8},{"p":3,"s":"smoothing once","x":70.15,"y":-3.1},{"p":3,"s":"smoothing once","x":70.2,"y":-2.25},{"p":3,"s":"smoothing once","x":70.1,"y":-1.45},{"p":3,"s":"smoothing once","x":69.95,"y":-0.95},{"p":3,"s":"smoothing once","x":69.75,"y":-0.1},{"p":3,"s":"smoothing once","x":69.5,"y":0.87},{"p":3,"s":"smoothing once","x":69.15,"y":1.75},{"p":3,"s":"smoothing once","x":68.82,"y":2.62},{"p":3,"s":"smoothing once","x":68.55,"y":3.4},{"p":3,"s":"smoothing once","x":68.48,"y":4.08},{"p":3,"s":"smoothing once","x":68.67,"y":4.8},{"p":3,"s":"smoothing once","x":69.1,"y":5.38},{"p":3,"s":"smoothing once","x":69.62,"y":5.74},{"p":3,"s":"smoothing once","x":70,"y":5.87},{"p":3,"s":"smoothing once","x":70.4,"y":5.94},
{"p":3,"s":"splines","x":54.5,"y":5.6},{"p":3,"s":"splines","x":55,"y":4.8},{"p":3,"s":"splines","x":55.4,"y":4.1},{"p":3,"s":"splines","x":55.75,"y":3.3},{"p":3,"s":"splines","x":55.95,"y":2.5},{"p":3,"s":"splines","x":55.95,"y":1.7},{"p":3,"s":"splines","x":55.75,"y":0.9},{"p":3,"s":"splines","x":55.4,"y":0.0},{"p":3,"s":"splines","x":55,"y":-0.85},{"p":3,"s":"splines","x":54.6,"y":-1.8},{"p":3,"s":"splines","x":54.3,"y":-3.2},{"p":3,"s":"splines","x":54.4,"y":-4.5},{"p":3,"s":"splines","x":54.8,"y":-5.2},{"p":3,"s":"splines","x":55.4,"y":-5.4},{"p":3,"s":"splines","x":56.1,"y":-5.35},{"p":3,"s":"splines","x":56.8,"y":-5.15},{"p":3,"s":"splines","x":57.5,"y":-4.85},{"p":3,"s":"splines","x":58.1,"y":-4.35},{"p":3,"s":"splines","x":58.55,"y":-3.65},{"p":3,"s":"splines","x":58.77,"y":-2.8},{"p":3,"s":"splines","x":58.78,"y":-1.9},{"p":3,"s":"splines","x":58.52,"y":-0.9},{"p":3,"s":"splines","x":58.12,"y":0.1},{"p":3,"s":"splines","x":57.7,"y":1.05},{"p":3,"s":"splines","x":57.25,"y":2.05},{"p":3,"s":"splines","x":56.88,"y":3.05},{"p":3,"s":"splines","x":56.55,"y":4.0},{"p":3,"s":"splines","x":56.55,"y":4.75},{"p":3,"s":"splines","x":56.9,"y":5.3},{"p":3,"s":"splines","x":57.5,"y":5.65},{"p":3,"s":"splines","x":58.3,"y":5.78},{"p":3,"s":"splines","x":59.1,"y":5.62},{"p":3,"s":"splines","x":59.8,"y":5.22},{"p":3,"s":"splines","x":60.5,"y":4.85},{"p":3,"s":"splines","x":61.1,"y":4.45},{"p":3,"s":"splines","x":61.5,"y":3.9},{"p":3,"s":"splines","x":61.7,"y":3.0},{"p":3,"s":"splines","x":61.72,"y":2.0},{"p":3,"s":"splines","x":61.58,"y":1.0},{"p":3,"s":"splines","x":61.36,"y":0.0},{"p":3,"s":"splines","x":61.07,"y":-1.0},{"p":3,"s":"splines","x":60.78,"y":-2.0},{"p":3,"s":"splines","x":60.58,"y":-3.0},{"p":3,"s":"splines","x":60.62,"y":-4.0},{"p":3,"s":"splines","x":60.9,"y":-4.8},{"p":3,"s":"splines","x":61.4,"y":-5.4},{"p":3,"s":"splines","x":62.1,"y":-5.72},{"p":3,"s":"splines","x":62.8,"y":-5.55},{"p":3,"s":"splines","x":63.5,"y":-5.1},{"p":3,"s":"splines","x":64.05,"y":-4.5},{"p":3,"s":"splines","x":64.45,"y":-3.8},{"p":3,"s":"splines","x":64.66,"y":-3.0},{"p":3,"s":"splines","x":64.72,"y":-2.0},{"p":3,"s":"splines","x":64.6,"y":-1.0},{"p":3,"s":"splines","x":64.3,"y":0.0},{"p":3,"s":"splines","x":63.85,"y":1.0},{"p":3,"s":"splines","x":63.33,"y":2.0},{"p":3,"s":"splines","x":62.8,"y":3.0},{"p":3,"s":"splines","x":62.3,"y":4.0},{"p":3,"s":"splines","x":62.35,"y":4.7},{"p":3,"s":"splines","x":62.85,"y":5.25},{"p":3,"s":"splines","x":63.6,"y":5.55},{"p":3,"s":"splines","x":64.5,"y":5.62},{"p":3,"s":"splines","x":65.4,"y":5.5},{"p":3,"s":"splines","x":66.2,"y":5.15},{"p":3,"s":"splines","x":66.85,"y":4.6},{"p":3,"s":"splines","x":67.33,"y":4.0},{"p":3,"s":"splines","x":67.74,"y":3.0},{"p":3,"s":"splines","x":67.91,"y":2.0},{"p":3,"s":"splines","x":67.85,"y":1.0},{"p":3,"s":"splines","x":67.56,"y":0.0},{"p":3,"s":"splines","x":67.1,"y":-1.0},{"p":3,"s":"splines","x":66.46,"y":-2.0},{"p":3,"s":"splines","x":65.75,"y":-2.9},{"p":3,"s":"splines","x":65.2,"y":-3.8},{"p":3,"s":"splines","x":65.15,"y":-4.5},{"p":3,"s":"splines","x":65.5,"y":-5.05},{"p":3,"s":"splines","x":66.2,"y":-5.45},{"p":3,"s":"splines","x":67.0,"y":-5.62},{"p":3,"s":"splines","x":67.8,"y":-5.6},{"p":3,"s":"splines","x":68.6,"y":-5.4},{"p":3,"s":"splines","x":69.48,"y":-5.0},{"p":3,"s":"splines","x":70,"y":-4.5},{"p":3,"s":"splines","x":70.4,"y":-3.8},{"p":3,"s":"splines","x":70.6,"y":-2.5},{"p":3,"s":"splines","x":70.4,"y":-0.5},{"p":3,"s":"splines","x":70,"y":0.3},{"p":3,"s":"splines","x":69.42,"y":1.0},{"p":3,"s":"splines","x":68.9,"y":2.0},{"p":3,"s":"splines","x":68.43,"y":3.0},{"p":3,"s":"splines","x":68.15,"y":4.0},{"p":3,"s":"splines","x":68.4,"y":4.65},{"p":3,"s":"splines","x":68.85,"y":5.1},{"p":3,"s":"splines","x":69.4,"y":5.38},{"p":3,"s":"splines","x":70,"y":5.47},{"p":3,"s":"splines","x":70.4,"y":5.5},
{"p":3,"s":"smoothing 4 times","x":54.6,"y":5.1},{"p":3,"s":"smoothing 4 times","x":55,"y":4.0},{"p":3,"s":"smoothing 4 times","x":55.3,"y":3.3},{"p":3,"s":"smoothing 4 times","x":55.42,"y":2.6},{"p":3,"s":"smoothing 4 times","x":55.42,"y":1.9},{"p":3,"s":"smoothing 4 times","x":55.3,"y":1.2},{"p":3,"s":"smoothing 4 times","x":55.1,"y":0.5},{"p":3,"s":"smoothing 4 times","x":54.9,"y":-0.2},{"p":3,"s":"smoothing 4 times","x":54.5,"y":-1.8},{"p":3,"s":"smoothing 4 times","x":54.35,"y":-3.3},{"p":3,"s":"smoothing 4 times","x":54.55,"y":-4.6},{"p":3,"s":"smoothing 4 times","x":55,"y":-5.3},{"p":3,"s":"smoothing 4 times","x":55.6,"y":-5.45},{"p":3,"s":"smoothing 4 times","x":56.3,"y":-5.35},{"p":3,"s":"smoothing 4 times","x":56.95,"y":-5.05},{"p":3,"s":"smoothing 4 times","x":57.5,"y":-4.55},{"p":3,"s":"smoothing 4 times","x":57.95,"y":-3.85},{"p":3,"s":"smoothing 4 times","x":58.2,"y":-3.0},{"p":3,"s":"smoothing 4 times","x":58.28,"y":-2.05},{"p":3,"s":"smoothing 4 times","x":58.15,"y":-1.15},{"p":3,"s":"smoothing 4 times","x":57.88,"y":-0.25},{"p":3,"s":"smoothing 4 times","x":57.55,"y":0.7},{"p":3,"s":"smoothing 4 times","x":57.2,"y":1.65},{"p":3,"s":"smoothing 4 times","x":56.88,"y":2.55},{"p":3,"s":"smoothing 4 times","x":56.68,"y":3.35},{"p":3,"s":"smoothing 4 times","x":56.65,"y":4.1},{"p":3,"s":"smoothing 4 times","x":56.85,"y":4.75},{"p":3,"s":"smoothing 4 times","x":57.3,"y":5.25},{"p":3,"s":"smoothing 4 times","x":57.95,"y":5.5},{"p":3,"s":"smoothing 4 times","x":58.6,"y":5.52},{"p":3,"s":"smoothing 4 times","x":59.25,"y":5.3},{"p":3,"s":"smoothing 4 times","x":59.82,"y":4.88},{"p":3,"s":"smoothing 4 times","x":60.3,"y":4.3},{"p":3,"s":"smoothing 4 times","x":60.7,"y":3.6},{"p":3,"s":"smoothing 4 times","x":60.95,"y":2.75},{"p":3,"s":"smoothing 4 times","x":61.0,"y":1.95},{"p":3,"s":"smoothing 4 times","x":60.85,"y":1.1},{"p":3,"s":"smoothing 4 times","x":60.55,"y":0.25},{"p":3,"s":"smoothing 4 times","x":60.15,"y":-0.75},{"p":3,"s":"smoothing 4 times","x":59.8,"y":-1.72},{"p":3,"s":"smoothing 4 times","x":59.6,"y":-2.68},{"p":3,"s":"smoothing 4 times","x":59.6,"y":-3.6},{"p":3,"s":"smoothing 4 times","x":59.85,"y":-4.45},{"p":3,"s":"smoothing 4 times","x":60.35,"y":-5.1},{"p":3,"s":"smoothing 4 times","x":61.0,"y":-5.5},{"p":3,"s":"smoothing 4 times","x":61.65,"y":-5.65},{"p":3,"s":"smoothing 4 times","x":62.3,"y":-5.6},{"p":3,"s":"smoothing 4 times","x":62.95,"y":-5.3},{"p":3,"s":"smoothing 4 times","x":63.5,"y":-4.75},{"p":3,"s":"smoothing 4 times","x":63.9,"y":-4.0},{"p":3,"s":"smoothing 4 times","x":64.1,"y":-3.1},{"p":3,"s":"smoothing 4 times","x":64.08,"y":-2.15},{"p":3,"s":"smoothing 4 times","x":63.85,"y":-1.2},{"p":3,"s":"smoothing 4 times","x":63.45,"y":-0.15},{"p":3,"s":"smoothing 4 times","x":63.02,"y":0.9},{"p":3,"s":"smoothing 4 times","x":62.7,"y":1.88},{"p":3,"s":"smoothing 4 times","x":62.5,"y":2.85},{"p":3,"s":"smoothing 4 times","x":62.47,"y":3.8},{"p":3,"s":"smoothing 4 times","x":62.65,"y":4.6},{"p":3,"s":"smoothing 4 times","x":63.05,"y":5.2},{"p":3,"s":"smoothing 4 times","x":63.65,"y":5.52},{"p":3,"s":"smoothing 4 times","x":64.35,"y":5.62},{"p":3,"s":"smoothing 4 times","x":65.1,"y":5.48},{"p":3,"s":"smoothing 4 times","x":65.8,"y":5.08},{"p":3,"s":"smoothing 4 times","x":66.35,"y":4.45},{"p":3,"s":"smoothing 4 times","x":66.8,"y":3.6},{"p":3,"s":"smoothing 4 times","x":67.08,"y":2.6},{"p":3,"s":"smoothing 4 times","x":67.12,"y":1.7},{"p":3,"s":"smoothing 4 times","x":67.0,"y":0.85},{"p":3,"s":"smoothing 4 times","x":66.75,"y":-0.1},{"p":3,"s":"smoothing 4 times","x":66.35,"y":-1.05},{"p":3,"s":"smoothing 4 times","x":65.95,"y":-1.95},{"p":3,"s":"smoothing 4 times","x":65.65,"y":-2.8},{"p":3,"s":"smoothing 4 times","x":65.62,"y":-3.7},{"p":3,"s":"smoothing 4 times","x":65.88,"y":-4.55},{"p":3,"s":"smoothing 4 times","x":66.4,"y":-5.2},{"p":3,"s":"smoothing 4 times","x":67.05,"y":-5.58},{"p":3,"s":"smoothing 4 times","x":67.7,"y":-5.7},{"p":3,"s":"smoothing 4 times","x":68.35,"y":-5.58},{"p":3,"s":"smoothing 4 times","x":68.95,"y":-5.2},{"p":3,"s":"smoothing 4 times","x":69.45,"y":-4.65},{"p":3,"s":"smoothing 4 times","x":69.82,"y":-4.05},{"p":3,"s":"smoothing 4 times","x":70.1,"y":-3.5},{"p":3,"s":"smoothing 4 times","x":70.5,"y":-2.0},{"p":3,"s":"smoothing 4 times","x":70.5,"y":0.0},{"p":3,"s":"smoothing 4 times","x":70,"y":0.47},{"p":3,"s":"smoothing 4 times","x":69.7,"y":1.1},{"p":3,"s":"smoothing 4 times","x":69.3,"y":2.0},{"p":3,"s":"smoothing 4 times","x":69.13,"y":2.97},{"p":3,"s":"smoothing 4 times","x":69.25,"y":3.9},{"p":3,"s":"smoothing 4 times","x":69.55,"y":4.6},{"p":3,"s":"smoothing 4 times","x":70,"y":5.08},{"p":3,"s":"smoothing 4 times","x":70.4,"y":5.3}
]},
"data": {"name": "d"},
"columns": 2,
"bounds": "flush",
"spacing": {"row": 195, "column": 103},
"resolve": {"scale": {"color": "shared", "strokeDash": "shared", "strokeWidth": "shared"}, "legend": {"color": "shared", "strokeDash": "shared", "strokeWidth": "shared"}},
"concat": [
{
  "width": 461, "height": 308,
  "title": {"text": "After 240 days", "fontSize": 25, "dx": -25, "offset": 11},
  "transform": [{"filter": "datum.p == 1"}],
  "mark": {"type": "line", "clip": true, "interpolate": "catmull-rom"},
  "encoding": {
    "x": {"field": "x", "type": "quantitative", "scale": {"domain": [55, 70], "nice": false, "zero": false}, "axis": {"values": [55, 60, 65, 70], "title": "x (m)"}},
    "y": {"field": "y", "type": "quantitative", "scale": {"domain": [-7, 7], "nice": false, "zero": false}, "axis": {"values": [-7,-6,-5,-4,-3,-2,-1,0,1,2,3,4,5,6,7], "title": "y (m)"}},
    "order": {"value": null},
    "color": {"field": "s", "type": "nominal", "scale": {"domain": ["splines", "no filter", "smoothing once", "smoothing 4 times"], "range": ["#000000", "#000000", "#000000", "#8a8a8a"]}, "legend": {"title": null}},
    "strokeDash": {"field": "s", "type": "nominal", "scale": {"domain": ["splines", "no filter", "smoothing once", "smoothing 4 times"], "range": [[3, 4], [1, 0], [1, 0], [1, 0]]}, "legend": {"title": null}},
    "strokeWidth": {"field": "s", "type": "nominal", "scale": {"type": "ordinal", "domain": ["splines", "no filter", "smoothing once", "smoothing 4 times"], "range": [1.6, 3.2, 1.9, 1.2]}, "legend": {"title": null}}
  }
},
{
  "width": 459, "height": 307,
  "title": {"text": "After 400 days", "fontSize": 22, "dx": -13, "offset": 12},
  "transform": [{"filter": "datum.p == 2"}],
  "mark": {"type": "line", "clip": true, "interpolate": "catmull-rom"},
  "encoding": {
    "x": {"field": "x", "type": "quantitative", "scale": {"domain": [55, 70], "nice": false, "zero": false}, "axis": {"values": [55, 60, 65, 70], "title": "x (m)", "titlePadding": -12}},
    "y": {"field": "y", "type": "quantitative", "scale": {"domain": [-7, 7], "nice": false, "zero": false}, "axis": {"values": [-7,-6,-5,-4,-3,-2,-1,0,1,2,3,4,5,6,7], "title": "y (m)"}},
    "order": {"value": null},
    "color": {"field": "s", "type": "nominal", "scale": {"domain": ["splines", "no filter", "smoothing once", "smoothing 4 times"], "range": ["#000000", "#000000", "#000000", "#8a8a8a"]}, "legend": {"title": null}},
    "strokeDash": {"field": "s", "type": "nominal", "scale": {"domain": ["splines", "no filter", "smoothing once", "smoothing 4 times"], "range": [[3, 4], [1, 0], [1, 0], [1, 0]]}, "legend": {"title": null}},
    "strokeWidth": {"field": "s", "type": "nominal", "scale": {"type": "ordinal", "domain": ["splines", "no filter", "smoothing once", "smoothing 4 times"], "range": [1.6, 3.2, 1.9, 1.2]}, "legend": {"title": null}}
  }
},
{
  "width": 461, "height": 299,
  "title": {"text": "After 800 days", "fontSize": 25, "dx": -19, "offset": 32},
  "transform": [{"filter": "datum.p == 3"}],
  "mark": {"type": "line", "clip": true, "interpolate": "catmull-rom"},
  "encoding": {
    "x": {"field": "x", "type": "quantitative", "scale": {"domain": [55, 70], "nice": false, "zero": false}, "axis": {"values": [55, 60, 65, 70], "title": "x (m)", "titlePadding": 12}},
    "y": {"field": "y", "type": "quantitative", "scale": {"domain": [-7, 7], "nice": false, "zero": false}, "axis": {"values": [-7,-6,-5,-4,-3,-2,-1,0,1,2,3,4,5,6,7], "title": "y (m)"}},
    "order": {"value": null},
    "color": {"field": "s", "type": "nominal", "scale": {"domain": ["splines", "no filter", "smoothing once", "smoothing 4 times"], "range": ["#000000", "#000000", "#000000", "#8a8a8a"]}, "legend": {"title": null}},
    "strokeDash": {"field": "s", "type": "nominal", "scale": {"domain": ["splines", "no filter", "smoothing once", "smoothing 4 times"], "range": [[3, 4], [1, 0], [1, 0], [1, 0]]}, "legend": {"title": null}},
    "strokeWidth": {"field": "s", "type": "nominal", "scale": {"type": "ordinal", "domain": ["splines", "no filter", "smoothing once", "smoothing 4 times"], "range": [1.6, 3.2, 1.9, 1.2]}, "legend": {"title": null}}
  }
}
]
}
